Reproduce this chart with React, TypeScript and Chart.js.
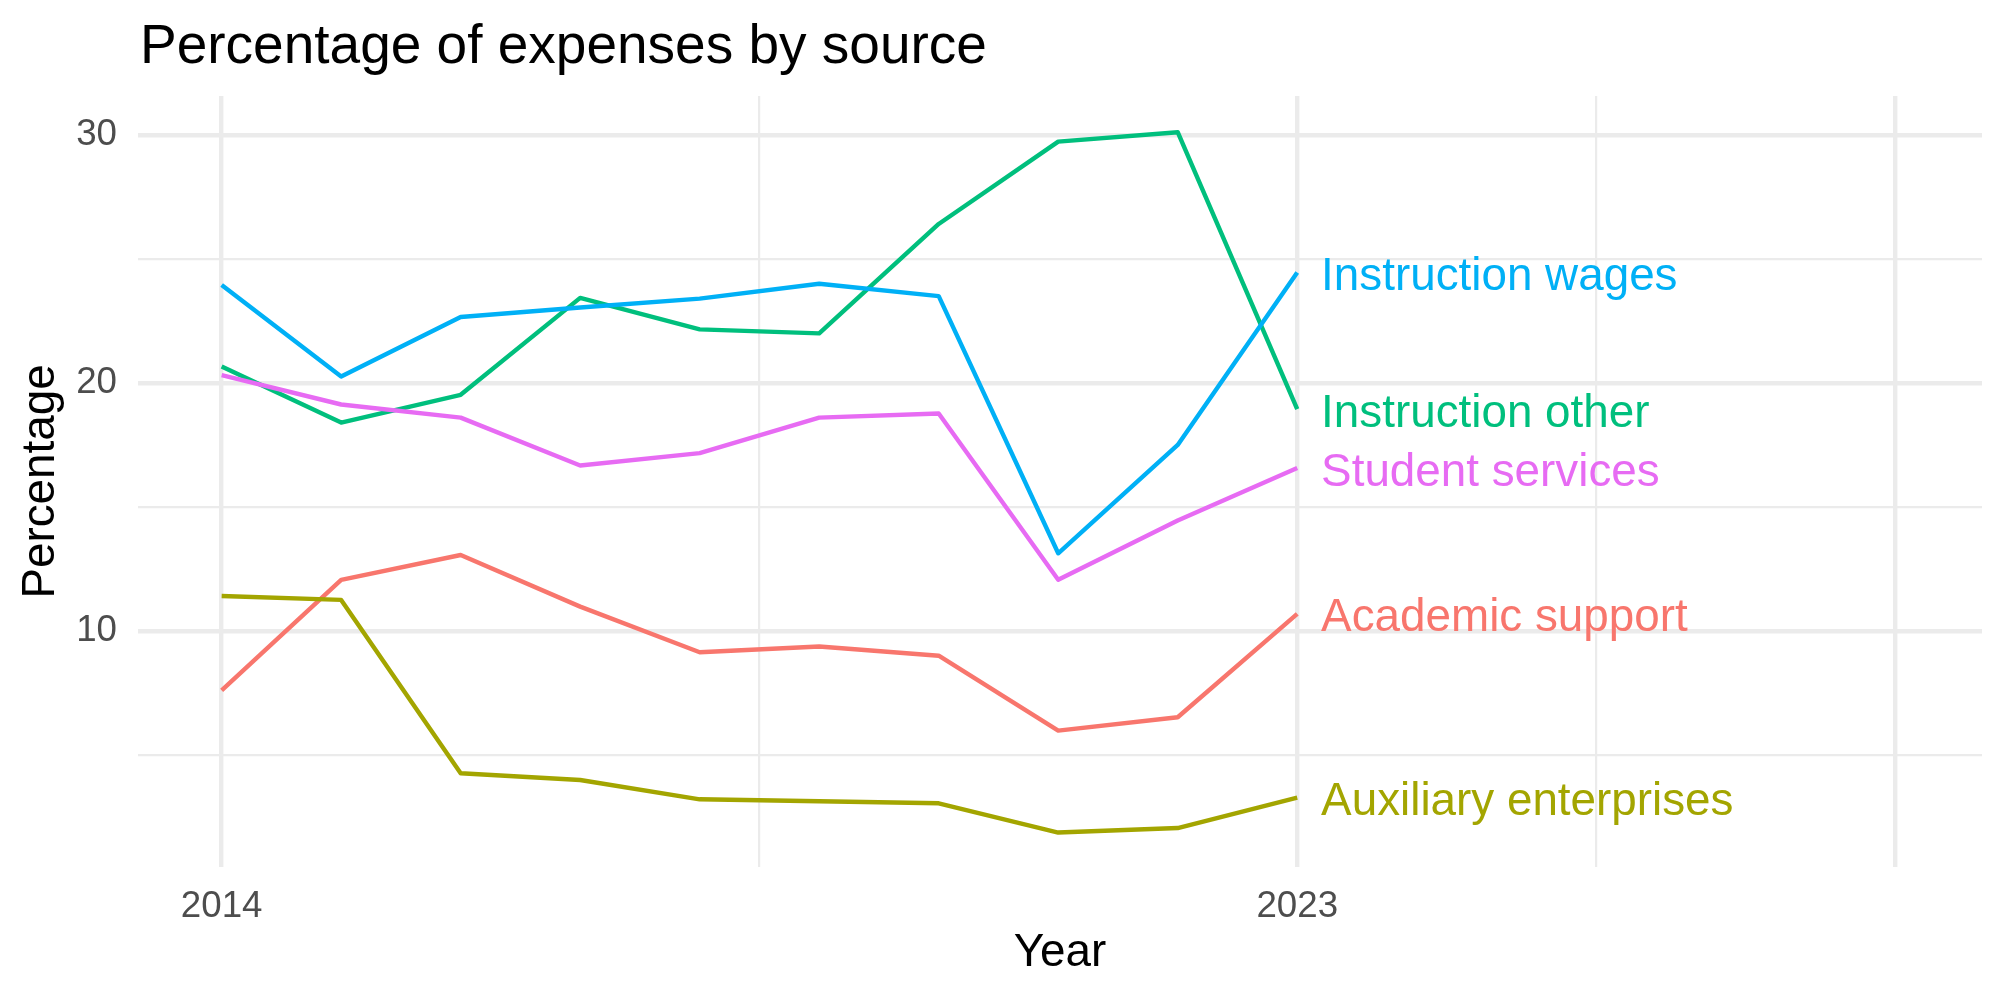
import React, { useEffect, useRef } from "react";
import { Chart, registerables } from "chart.js";

Chart.register(...registerables);

// ---- data ----
const years = [2014, 2015, 2016, 2017, 2018, 2019, 2020, 2021, 2022, 2023];
const academicSupport = [7.6, 12.06, 13.06, 10.98, 9.14, 9.37, 9.0, 5.98, 6.52, 10.69];
const auxiliaryEnterprises = [11.41, 11.25, 4.26, 3.99, 3.21, 3.13, 3.05, 1.87, 2.05, 3.28];
const instructionOther = [20.66, 18.4, 19.52, 23.43, 22.16, 22.0, 26.41, 29.73, 30.11, 18.94];
const instructionWages = [23.95, 20.26, 22.66, 23.04, 23.4, 24.0, 23.5, 13.13, 17.5, 24.45];
const studentServices = [20.31, 19.13, 18.6, 16.67, 17.17, 18.6, 18.77, 12.06, 14.45, 16.57];

const seriesNames = [
  "Academic support",
  "Auxiliary enterprises",
  "Instruction other",
  "Instruction wages",
  "Student services",
];
const seriesValues = [academicSupport, auxiliaryEnterprises, instructionOther, instructionWages, studentServices];
const seriesColors = ["#F8766D", "#A3A500", "#00BF7D", "#00B0F6", "#E76BF3"];

const yTickValues = [5, 10, 15, 20, 25, 30];
const yTickLabels = [10, 20, 30];
const xTickValues = [2014, 2018.5, 2023, 2025.5, 2028];
const xTickLabels = [2014, 2023];
const xMajor = [2014, 2023, 2028];

const titleText = "Percentage of expenses by source";
const xTitle = "Year";
const yTitle = "Percentage";

const FONT = "'Liberation Sans', Arial, Helvetica, sans-serif";
const GRID = "#EBEBEB";
const MAJOR_W = 4.4;
const MINOR_W = 2.2;

const labelPlugin = {
  id: "endLabels",
  afterDatasetsDraw(chart: any) {
    const ctx = chart.ctx;
    const xs = chart.scales.x;
    ctx.save();
    ctx.font = `45.8px ${FONT}`;
    ctx.textAlign = "left";
    ctx.textBaseline = "middle";
    chart.data.datasets.forEach((ds: any, i: number) => {
      const meta = chart.getDatasetMeta(i);
      const last = meta.data[meta.data.length - 1];
      const lastYear = ds.data[ds.data.length - 1].x;
      ctx.fillStyle = ds.borderColor;
      ctx.fillText(ds.label, xs.getPixelForValue(lastYear + 0.2), last.y + 5);
    });
    ctx.restore();
  },
  afterDraw(chart: any) {
    const ctx = chart.ctx;
    ctx.save();
    ctx.font = `55px ${FONT}`;
    ctx.fillStyle = "#000000";
    ctx.textAlign = "left";
    ctx.textBaseline = "alphabetic";
    ctx.fillText(titleText, 140, 63);
    ctx.restore();
  },
};

export default function App() {
  const ref = useRef<HTMLCanvasElement>(null);

  useEffect(() => {
    document.body.style.margin = "0";
    const canvas = ref.current!;
    // ggplot draws later groups on top; Chart.js draws index 0 on top
    const datasets = seriesNames
      .map((name, i) => ({
        label: name,
        data: years.map((y, j) => ({ x: y, y: seriesValues[i][j] })),
        borderColor: seriesColors[i],
        backgroundColor: seriesColors[i],
        borderWidth: 4.4,
        pointRadius: 0,
        pointHoverRadius: 0,
        tension: 0,
        borderJoinStyle: "round" as const,
        borderCapStyle: "butt" as const,
        fill: false,
      }))
      .reverse();

    const chart = new Chart(canvas, {
      type: "line",
      data: { datasets },
      plugins: [labelPlugin],
      options: {
        animation: false,
        responsive: false,
        devicePixelRatio: 1,
        layout: { padding: { top: 96, right: 18, left: 0, bottom: 0 } },
        plugins: {
          legend: { display: false },
          tooltip: { enabled: false },
          title: { display: false },
        },
        scales: {
          x: {
            type: "linear",
            min: 2013.3,
            max: 2028.73,
            border: { display: false },
            grid: {
              color: GRID,
              drawTicks: false,
              lineWidth: (c: any) => (c.tick && xMajor.includes(c.tick.value) ? MAJOR_W : MINOR_W),
            },
            afterBuildTicks: (scale: any) => {
              scale.ticks = xTickValues.map((v) => ({ value: v }));
            },
            afterFit: (scale: any) => {
              scale.height = 133;
            },
            ticks: {
              autoSkip: false,
              maxRotation: 0,
              minRotation: 0,
              padding: 18,
              color: "#4D4D4D",
              font: { family: FONT, size: 36.7 },
              callback: (v: any) => (xTickLabels.includes(Number(v)) ? String(v) : ""),
            },
            title: {
              display: true,
              text: xTitle,
              color: "#000000",
              font: { family: FONT, size: 45.8 },
              padding: { top: 0, bottom: 19 },
            },
          },
          y: {
            type: "linear",
            min: 0.48,
            max: 31.57,
            border: { display: false },
            grid: {
              color: GRID,
              drawTicks: false,
              lineWidth: (c: any) => (c.tick && yTickLabels.includes(c.tick.value) ? MAJOR_W : MINOR_W),
            },
            afterBuildTicks: (scale: any) => {
              scale.ticks = yTickValues.map((v) => ({ value: v }));
            },
            afterFit: (scale: any) => {
              scale.width = 138;
            },
            ticks: {
              autoSkip: false,
              padding: 21,
              color: "#4D4D4D",
              font: { family: FONT, size: 36.7 },
              callback: (v: any) => (yTickLabels.includes(Number(v)) ? String(v) : ""),
            },
            title: {
              display: true,
              text: yTitle,
              color: "#000000",
              font: { family: FONT, size: 45.8 },
              padding: { top: 13.5, bottom: 0 },
            },
          },
        },
      } as any,
    });
    return () => chart.destroy();
  }, []);

  return (
    <div style={{ width: 2000, height: 1000, background: "#ffffff" }}>
      <canvas ref={ref} width={2000} height={1000} style={{ display: "block", width: 2000, height: 1000 }} />
    </div>
  );
}
